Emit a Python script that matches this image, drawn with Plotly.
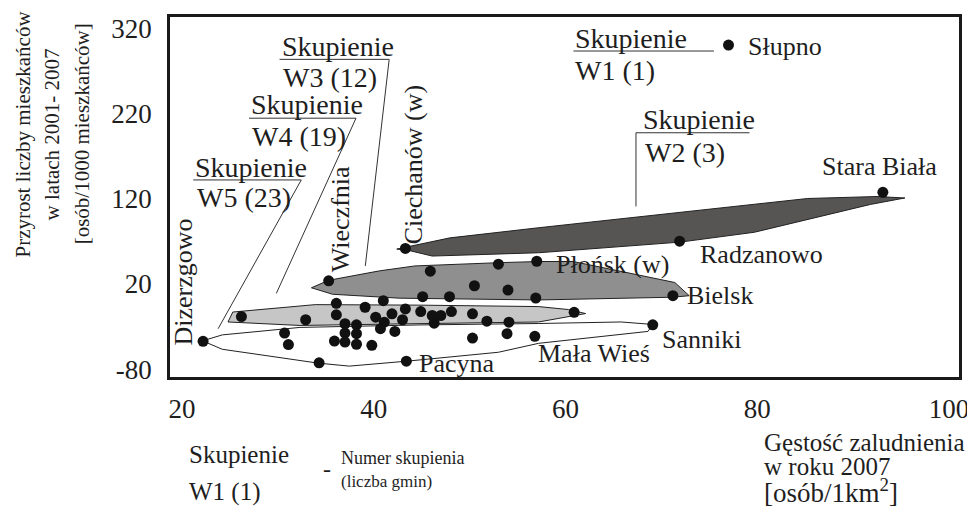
import plotly.graph_objects as go

FONT = "Liberation Serif, Times New Roman, serif"
INK = "#1e1e1e"

# --- data: gęstość zaludnienia 2007 [os/km2] (x) i przyrost 2001-2007 [os/1000] (y)
gmina_nazwa = ["Słupno", "Stara Biała", "Radzanowo", "Ciechanów (w)", "Wieczfnia",
               "Płońsk (w)", "Bielsk", "Sanniki", "Dizerzgowo", "Pacyna", "Mała Wieś"]
gmina_gestosc = [77.0, 93.1, 71.9, 43.3, 35.3, 57.0, 71.2, 69.1, 22.2, 43.4, 56.8]
gmina_przyrost = [301.0, 127.9, 70.4, 61.9, 23.8, 46.8, 6.3, -27.9, -47.3, -70.7, -41.5]

pozostale_gestosc = [45.9, 53.0, 26.2, 30.7, 31.1, 50.5, 54.0, 56.9, 45.1, 47.9, 41.0, 36.1,
                     39.1, 43.3, 44.9, 48.1, 41.9, 36.1, 40.2, 43.0, 46.1, 47.0, 46.3, 50.3,
                     51.8, 54.1, 60.9, 32.9, 37.0, 38.2, 41.1, 40.7, 37.0, 38.2, 42.2, 35.9,
                     37.0, 38.2, 39.8, 50.3, 53.9, 34.3]
pozostale_przyrost = [35.1, 43.3, -18.2, -37.7, -51.2, 18.0, 12.9, 3.6, 5.1, 5.1, 0.5, -2.7,
                      -7.3, -9.2, -12.4, -12.4, -15.0, -16.2, -19.0, -22.0, -17.0, -17.0, -26.0, -15.0,
                      -23.7, -24.8, -13.2, -22.0, -26.7, -27.9, -24.8, -32.5, -37.7, -38.4, -35.7, -47.0,
                      -48.2, -50.8, -52.0, -43.5, -38.4, -72.6]

# cluster outlines (hand-drawn hulls)
w2_x = [42.4, 47.95, 57.2, 85.25, 92.5, 95.4, 91.8, 79.7, 71.95, 57.2, 46.1, 43.7]
w2_y = [61.1, 74.3, 86.2, 120.6, 122.9, 121.2, 113.6, 80.9, 69.3, 56.8, 52.9, 59.4]
w3_x = [33.5, 35.3, 40.6, 44.3, 53.0, 57.2, 60.8, 71.4, 72.9, 71.2, 57.2, 42.65, 35.7]
w3_y = [15.6, 24.4, 35.5, 41.3, 45.1, 46.5, 46.5, 21.8, 6.3, 4.5, 1.3, 3.4, 8.0]
w4_x = [24.8, 25.3, 33.9, 44.7, 57.2, 60.3, 62.1, 59.0, 57.2, 42.65, 32.3]
w4_y = [-24.6, -12.9, -4.2, -4.8, -6.5, -10.0, -14.7, -21.1, -24.6, -26.9, -28.7]
w5_x = [22.15, 24.2, 32.3, 44.7, 57.2, 65.8, 69.1, 68.6, 57.2, 53.0, 43.45, 37.45, 34.2, 24.2]
w5_y = [-46.8, -39.8, -31.0, -28.1, -26.4, -24.6, -27.5, -35.7, -49.7, -60.2, -70.7, -76.5, -73.0, -56.7]

# leader lines from cluster captions
leader_lines = {
    "W1": ([60.83, 75.48], [294.0, 294.0]),
    "W2": ([79.19, 67.35, 67.35], [197.9, 197.9, 111.3]),
    "W3": ([30.18, 41.61, 39.12], [284.2, 284.2, 41.3]),
    "W4": ([26.99, 38.15, 29.84], [215.0, 215.0, 9.0]),
    "W5": ([21.17, 32.44, 23.77], [142.4, 142.4, -32.5]),
}

x_ticks = [20, 40, 60, 80, 100]
y_ticks = [-80, 20, 120, 220, 320]
y_tick_labels = ["-80", "20", "120", "220", "320"]

y_title_lines = ["Przyrost liczby mieszkańców", "w latach 2001- 2007", "[osób/1000 mieszkańców]"]
x_title_lines = ["Gęstość zaludnienia", "w roku 2007", "[osób/1km<sup>2</sup>]"]

fig = go.Figure()

for xs, ys, fill in [(w5_x, w5_y, "#ffffff"), (w4_x, w4_y, "#c6c6c6"),
                     (w3_x, w3_y, "#8f8f8f"), (w2_x, w2_y, "#575454")]:
    fig.add_trace(go.Scatter(x=xs + xs[:1], y=ys + ys[:1], mode="lines", fill="toself",
                             fillcolor=fill, line=dict(color="#222222", width=1),
                             hoverinfo="skip", showlegend=False))

for key, (lx, ly) in leader_lines.items():
    fig.add_trace(go.Scatter(x=lx, y=ly, mode="lines", line=dict(color="#333333", width=1),
                             hoverinfo="skip", showlegend=False))

fig.add_trace(go.Scatter(x=pozostale_gestosc + gmina_gestosc,
                         y=pozostale_przyrost + gmina_przyrost,
                         mode="markers", marker=dict(color="#111111", size=11),
                         showlegend=False))

ann = []

def txt(x, y, t, size=26, xanchor="left", angle=0, xref="x", yref="y"):
    ann.append(dict(x=x, y=y, xref=xref, yref=yref, text=t, showarrow=False,
                    xanchor=xanchor, yanchor="middle", textangle=angle,
                    font=dict(family=FONT, size=size, color=INK)))

# cluster captions
txt(60.83, 308.5, "Skupienie", 28)
txt(60.83, 271.2, "W1 (1)", 28)
txt(67.9, 213.7, "Skupienie", 28)
txt(68.1, 174.7, "W2 (3)", 28)
txt(30.18, 299.1, "Skupienie", 28)
txt(30.35, 262.6, "W3 (12)", 28)
txt(26.99, 230.6, "Skupienie", 28)
txt(27.14, 193.3, "W4 (19)", 28)
txt(21.17, 157.2, "Skupienie", 28)
txt(21.35, 121.3, "W5 (23)", 28)

# commune labels
txt(78.81, 298.8, "Słupno")
txt(86.57, 158.5, "Stara Biała")
txt(73.82, 54.9, "Radzanowo")
txt(58.75, 43.3, "Płońsk (w)")
txt(72.44, 6.7, "Bielsk")
txt(69.84, -44.7, "Sanniki")
txt(56.88, -61.3, "Mała Wieś")
txt(44.55, -73.0, "Pacyna")
txt(20.21, 21.8, "Dizerzgowo", xanchor="center", angle=-90)
txt(36.52, 96.7, "Wieczfnia", xanchor="center", angle=-90)
txt(44.10, 160.8, "Ciechanów (w)", xanchor="center", angle=-90)

# y-axis title: three rotated lines
for xp, line in zip([-0.1869, -0.149, -0.1111], y_title_lines):
    txt(xp, 0.675, line, 21, xanchor="center", angle=-90, xref="paper", yref="paper")

# x-axis title
for yp, line, sz in zip([-0.182, -0.248, -0.317], x_title_lines, [25, 25, 27]):
    txt(0.75, yp, line, sz, xref="paper", yref="paper")

# key
txt(0.0215, -0.215, "Skupienie", 25, xref="paper", yref="paper")
txt(0.0215, -0.3196, "W1 (1)", 25, xref="paper", yref="paper")
txt(0.192, -0.256, "-", 24, xref="paper", yref="paper")
txt(0.2146, -0.226, "Numer skupienia", 18, xref="paper", yref="paper")
txt(0.2146, -0.289, "(liczba gmin)", 17, xref="paper", yref="paper")

axis_common = dict(showgrid=False, zeroline=False, showline=True, mirror=True,
                   linecolor="#1a1a1a", linewidth=2.5, ticks="",
                   tickfont=dict(family=FONT, size=27, color=INK))

# the page body adds an 8 px offset, so the figure is drawn 8 px smaller
fig.update_layout(
    width=967, height=509,
    margin=dict(l=162, r=13, t=6, b=140),
    paper_bgcolor="white", plot_bgcolor="white",
    xaxis=dict(range=[18.75, 101.04], tickvals=x_ticks, ticklabelstandoff=6, **axis_common),
    yaxis=dict(range=[-89.3, 334.0], tickvals=y_ticks, ticktext=y_tick_labels,
               ticklabelstandoff=10, **axis_common),
    annotations=ann,
    showlegend=False,
)

fig.write_html("out.html")
